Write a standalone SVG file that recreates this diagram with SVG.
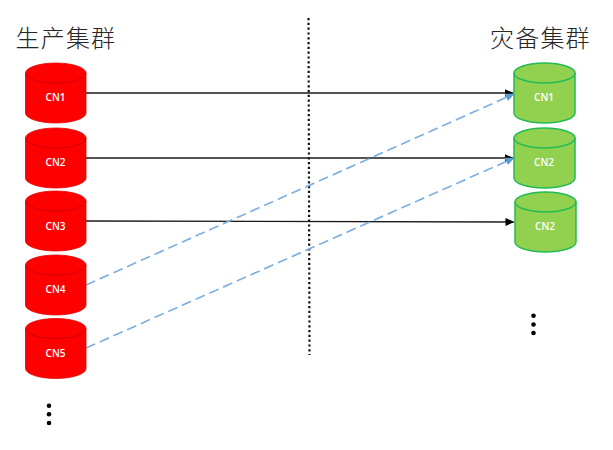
<svg xmlns="http://www.w3.org/2000/svg" width="613" height="450" viewBox="0 0 613 450">
<style>
.title{font-family:"Noto Sans CJK SC","Noto Sans CJK TC",sans-serif;font-size:24px;font-weight:300;fill:#262626;letter-spacing:1.200px}
.lbl{font-family:"Open Sans","Liberation Sans",sans-serif;font-size:10px;font-weight:600;fill:#fff;text-anchor:middle}
.body-r{fill:#f00;stroke:#e00000;stroke-width:.8}
.body-g{fill:#92d050;stroke:#22bb55;stroke-width:1.5}
.solid{stroke:#1a1a1a;stroke-width:1.400;fill:none;marker-end:url(#ab)}
.dash{stroke:#7fb0e0;stroke-width:1.700;stroke-dasharray:10 5;fill:none;marker-end:url(#ae)}
.dot{fill:#000}
</style>
<defs>
<marker id="ab" markerWidth="10" markerHeight="10" refX="8.500" refY="4" orient="auto" markerUnits="userSpaceOnUse"><path d="M0 0L9 4L0 8Z" fill="#000"/></marker>
<marker id="ae" markerWidth="10" markerHeight="10" refX="8.500" refY="4" orient="auto" markerUnits="userSpaceOnUse"><path d="M0 0L9 4L0 8Z" fill="#5b9bd5"/></marker>
<g id="cyl-r"><path class="body-r" d="M0 10A30.250 10 0 0 1 60.500 10V50A30.250 10 0 0 1 0 50Z"/><path d="M0 10A30.250 10 0 0 0 60.500 10" fill="none" stroke="#c00000" stroke-width=".8"/></g>
<g id="cyl-g"><path class="body-g" d="M0 10A30.500 10 0 0 1 61 10V50A30.500 10 0 0 1 0 50Z"/><path d="M0 10A30.500 10 0 0 0 61 10" fill="none" stroke="#22bb55" stroke-width="1.500"/></g>
</defs>
<rect width="613" height="450" fill="#fff"/>
<text id="title-left" class="title" x="15.500" y="47">生产集群</text>
<text id="title-right" class="title" x="490" y="47">灾备集群</text>
<line id="divider" x1="308.500" y1="18" x2="309.500" y2="355" stroke="#111" stroke-width="2.200" stroke-dasharray="2.200 2.600"/>
<g id="connectors">
<line class="solid" x1="86" y1="93" x2="513" y2="93"/>
<line class="solid" x1="86" y1="158" x2="513" y2="158"/>
<line class="solid" x1="86" y1="221" x2="514" y2="222"/>
<line class="dash" x1="86" y1="285" x2="514" y2="94"/>
<line class="dash" x1="86" y1="348" x2="514" y2="158"/>
</g>
<g id="cn1-left"><use href="#cyl-r" x="25.500" y="63"/><text class="lbl" x="55.500" y="101">CN1</text></g>
<g id="cn2-left"><use href="#cyl-r" x="25.500" y="128"/><text class="lbl" x="55.500" y="166">CN2</text></g>
<g id="cn3-left"><use href="#cyl-r" x="25.500" y="191"/><text class="lbl" x="55.500" y="230">CN3</text></g>
<g id="cn4-left"><use href="#cyl-r" x="25.500" y="255"/><text class="lbl" x="55.500" y="293">CN4</text></g>
<g id="cn5-left"><use href="#cyl-r" x="25.500" y="318.500"/><text class="lbl" x="55.500" y="357">CN5</text></g>
<g id="cn1-right"><use href="#cyl-g" x="514" y="63"/><text class="lbl" x="544" y="101">CN1</text></g>
<g id="cn2-right"><use href="#cyl-g" x="514" y="128"/><text class="lbl" x="544" y="166">CN2</text></g>
<g id="cn3-right"><use href="#cyl-g" x="515" y="192"/><text class="lbl" x="545" y="230">CN2</text></g>
<g id="more-left"><circle class="dot" cx="49" cy="405.700" r="2.300"/><circle class="dot" cx="49" cy="414.300" r="2.300"/><circle class="dot" cx="49" cy="423" r="2.300"/></g>
<g id="more-right"><circle class="dot" cx="533.500" cy="315.700" r="2.300"/><circle class="dot" cx="533.500" cy="324.500" r="2.300"/><circle class="dot" cx="533.500" cy="333" r="2.300"/></g>
</svg>
